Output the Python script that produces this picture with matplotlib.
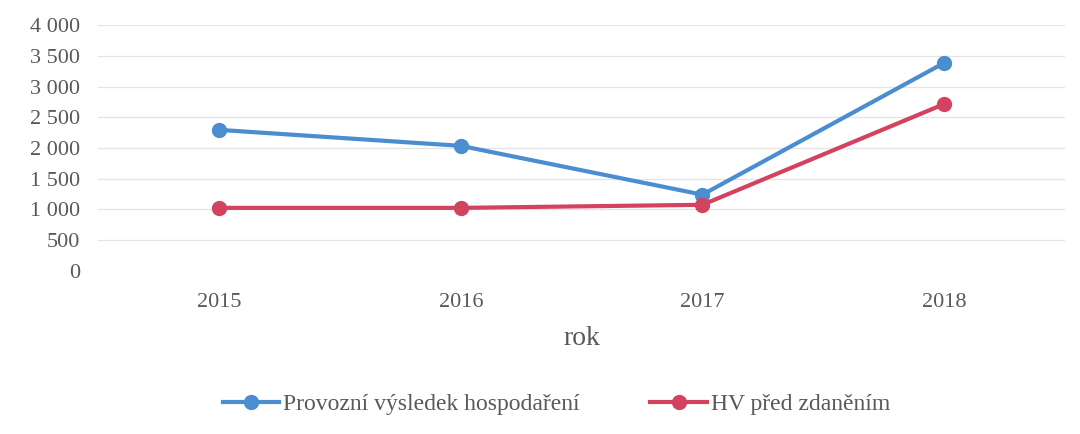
import matplotlib

matplotlib.use("Agg")
import matplotlib.pyplot as plt
from matplotlib.ticker import FuncFormatter

roky = ["2015", "2016", "2017", "2018"]
provozni_vh = [2295, 2035, 1240, 3385]
hv_pred_zdanenim = [1025, 1025, 1075, 2715]

modra = "#4A8ED0"
cervena = "#D3435F"
seda = "#595959"

plt.rcParams["font.family"] = ["Liberation Serif", "DejaVu Serif"]

fig = plt.figure(figsize=(10.8, 4.34), dpi=100)
ax = fig.add_axes([0.091, 0.376, 0.895, 0.566])

x = range(len(roky))
ax.plot(x, provozni_vh, "-o", color=modra, lw=3, ms=10, label="Provozní výsledek hospodaření")
ax.plot(x, hv_pred_zdanenim, "-o", color=cervena, lw=3, ms=10, label="HV před zdaněním")

ax.set_ylim(0, 4000)
ax.set_yticks(range(0, 4001, 500))
ax.yaxis.set_major_formatter(FuncFormatter(lambda v, _: f"{int(v):,}".replace(",", " ")))
ax.set_xlim(-0.5, len(roky) - 0.5)
ax.set_xticks(list(x))
ax.set_xticklabels(roky)

ax.grid(axis="y", color="#E4E4E4", lw=0.9)
ax.set_axisbelow(True)
for s in ax.spines.values():
    s.set_visible(False)
ax.tick_params(length=0, colors=seda, labelsize=16)
ax.tick_params(axis="y", pad=13)
ax.tick_params(axis="x", pad=16)
ax.set_xlabel("rok", color=seda, fontsize=20, labelpad=10)

fig.legend(loc="center", bbox_to_anchor=(0.515, 0.068), ncol=2, frameon=False,
           fontsize=17, labelcolor=seda, handlelength=2.4, handletextpad=0.15,
           columnspacing=3.0)

fig.savefig("out.png", dpi=100)
